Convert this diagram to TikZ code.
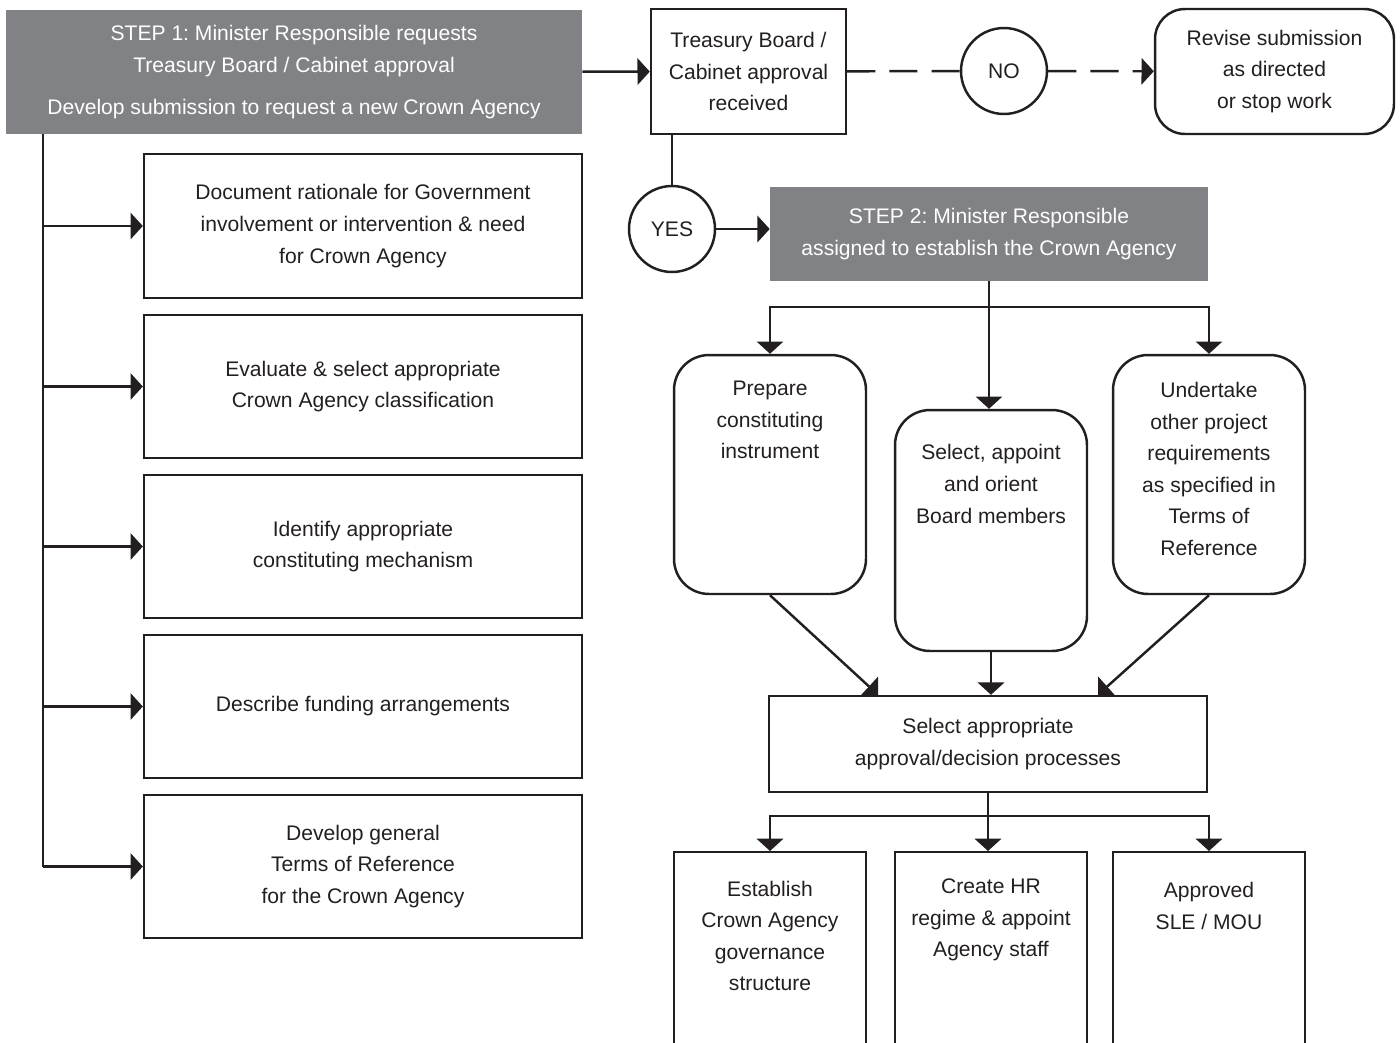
\documentclass[tikz,border=0pt]{standalone}
\usepackage{fontspec}
\setmainfont{Liberation Sans}
\frenchspacing
\definecolor{StepGray}{HTML}{818285}
\definecolor{InkBlack}{HTML}{231F20}
\usetikzlibrary{arrows.meta}

\begin{document}
\begin{tikzpicture}[x=0.02cm,y=-0.02cm,>={Triangle[length=7pt,width=15pt]},
    every node/.style={align=center,inner sep=0pt,text=InkBlack,font=\fontsize{12}{18}\selectfont},
    box/.style={draw=InkBlack,line width=1.4pt,minimum width=3.84cm},
    widebox/.style={box,minimum width=8.76cm},
    stepbox/.style={fill=StepGray,text=white,minimum width=8.76cm},
    roundbox/.style={box,rounded corners=0.7cm},
    answer/.style={draw=InkBlack,line width=1.4pt,circle,minimum size=1.72cm},
    line/.style={draw=InkBlack,line width=1.4pt},
    arr/.style={line,->}]
      \useasboundingbox (0,0) rectangle (1400,1042);
      \clip (0,0) rectangle (1400,1042);
      \node[stepbox,minimum width=11.52cm,minimum height=2.48cm] (step1) at (294,72) {STEP 1: Minister Responsible requests\\Treasury Board / Cabinet approval\\[6pt]Develop submission to request a new Crown Agency};
      \node[box,minimum width=3.9cm,minimum height=2.5cm] (appr) at (748.5,71.5) {Treasury Board /\\Cabinet approval\\received};
      \node[answer] (no) at (1004,71) {NO};
      \node[box,rounded corners=0.6cm,minimum width=4.78cm,minimum height=2.5cm] (rev) at (1274.5,71.5) {Revise submission\\as directed\\or stop work};
      \node[answer] (yes) at (672,229) {YES};
      \node[stepbox,minimum height=1.88cm] (step2) at (989,234) {STEP 2: Minister Responsible\\assigned to establish the Crown Agency};
      % left column
      \node[widebox,minimum height=2.88cm] (doc) at (363,226) {Document rationale for Government\\involvement or intervention \& need\\for Crown Agency};
      \node[widebox,minimum height=2.86cm] (eval) at (363,386.5) {Evaluate \& select appropriate\\Crown Agency classification};
      \node[widebox,minimum height=2.86cm] (ident) at (363,546.5) {Identify appropriate\\constituting mechanism};
      \node[widebox,minimum height=2.86cm] (fund) at (363,706.5) {Describe funding arrangements};
      \node[widebox,minimum height=2.86cm] (terms) at (363,866.5) {Develop general\\Terms of Reference\\for the Crown Agency};
      % step 2 tasks
      \node[roundbox,minimum height=4.78cm] (prep) at (770,474.5) {};
      \node (prepT) at (770,420) {Prepare\\constituting\\instrument};
      \node[roundbox,minimum height=4.82cm] (selb) at (991,530.5) {};
      \node (selbT) at (991,484) {Select, appoint\\and orient\\Board members};
      \node[roundbox,minimum height=4.78cm] (undt) at (1209,474.5) {};
      \node (undtT) at (1209,469) {Undertake\\other project\\requirements\\as specified in\\Terms of\\Reference};
      \node[widebox,minimum height=1.92cm] (selp) at (988,744) {Select appropriate\\approval/decision processes};
      \node[box,minimum height=5cm,anchor=north] (estab) at (770,851) {};
      \node (estabT) at (770,936) {Establish\\Crown Agency\\governance\\structure};
      \node[box,minimum height=5cm,anchor=north] (hr) at (991,851) {};
      \node (hrT) at (991,920) {Create HR\\regime \& appoint\\Agency staff};
      \node[box,minimum height=5cm,anchor=north] (sle) at (1209,851) {};
      \node (sleT) at (1209,906) {Approved\\SLE / MOU};
      % connectors
      \draw[arr] (step1) -- (appr);
      \draw[line,dash pattern=on 16pt off 8pt] (appr) -- (no);
      \draw[arr,dash pattern=on 16pt off 8pt] (no) -- (rev);
      \draw[line] (appr.south -| yes) -- (yes);
      \draw[arr] (yes) -- (step2.west |- yes);
      \coordinate (spine) at (43,134);
      \draw[line] (spine) -- (spine |- terms);
      \foreach \b in {doc,eval,ident,fund,terms}
        \draw[arr] (spine |- \b) -- (\b.west);
      \coordinate (split1) at (989,307);
      \draw[arr] (step2.south) -- (step2.south |- selb.north);
      \draw[arr] (split1) -| (prep.north);
      \draw[arr] (split1) -| (undt.north);
      \draw[arr] (prep.south) -- ([xshift=-2.2cm]selp.north);
      \draw[arr] (selb.south) -- (selb.south |- selp.north);
      \draw[arr] (undt.south) -- ([xshift=2.2cm]selp.north);
      \coordinate (split2) at (988,816);
      \draw[arr] (selp.south) -- (selp.south |- hr.north);
      \draw[arr] (split2) -| (estab.north);
      \draw[arr] (split2) -| (sle.north);
    \end{tikzpicture}
\end{document}
